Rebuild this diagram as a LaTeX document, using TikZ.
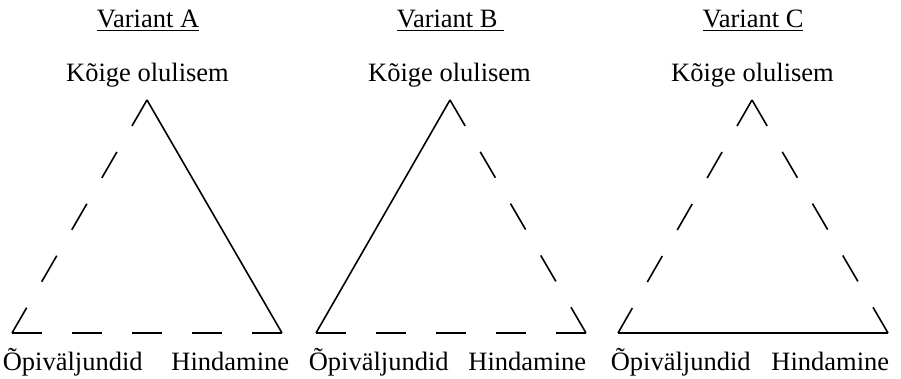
\documentclass[tikz,border=0pt]{standalone}
\usepackage{fontspec}
\setmainfont{Liberation Serif}
\tikzset{lbl/.style={font=\fontsize{26.5}{30}\selectfont, inner sep=0pt},
  dsh/.style={dash pattern=on 30pt off 30pt}}
\begin{document}
\begin{tikzpicture}[x=1pt, y=1pt, line width=1.6pt]
  \useasboundingbox (0,0) rectangle (901,378);
  \coordinate (a1) at (147,278);
  \coordinate (a2) at (12,45);
  \coordinate (a3) at (282,45);

  \coordinate (b1) at (450,278);
  \coordinate (b2) at (316,45);
  \coordinate (b3) at (586,45);

  \coordinate (c1) at (752,278);
  \coordinate (c2) at (618,45);
  \coordinate (c3) at (888,45);

  \node[lbl, anchor=base] (ta) at (148,350) {\underline{Variant A}};
  \node[lbl, anchor=base west] (tb) at (396,350) {\underline{Variant B~}};
  \node[lbl, anchor=base] (tc) at (753,350) {\underline{Variant C}};

  \node[lbl, anchor=base] (ka) at (147.5,296) {Kõige olulisem};
  \node[lbl, anchor=base] (kb) at (449.5,296) {Kõige olulisem};
  \node[lbl, anchor=base] (kc) at (752.5,296) {Kõige olulisem};

  \node[lbl, anchor=base west] (oa) at (2,8) {Õpiväljundid};
  \node[lbl, anchor=base east] (ha) at (290,8) {Hindamine};
  \node[lbl, anchor=base west] (ob) at (308,8) {Õpiväljundid};
  \node[lbl, anchor=base east] (hb) at (587,8) {Hindamine};
  \node[lbl, anchor=base west] (oc) at (610,8) {Õpiväljundid};
  \node[lbl, anchor=base east] (hc) at (890,8) {Hindamine};

  \foreach \from/\to in {a1/a3, b1/b2, c2/c3}
   \draw (\from) -- (\to);
  \foreach \from/\to in {a1/a2, a2/a3, b1/b3, b2/b3, c1/c2, c1/c3}
   \draw[dsh] (\from) -- (\to);
\end{tikzpicture}
\end{document}
